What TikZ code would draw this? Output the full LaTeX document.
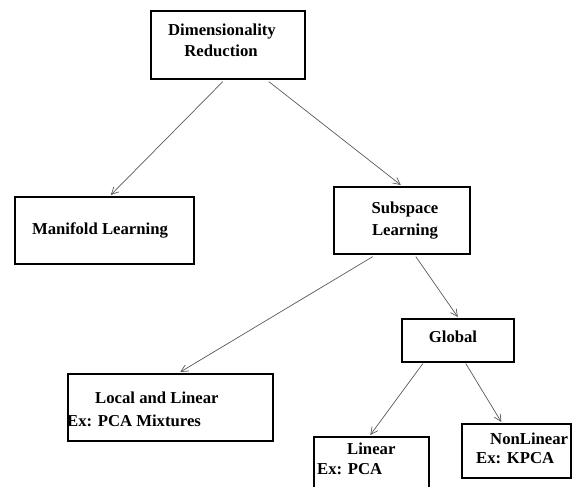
\documentclass[tikz,border=0pt]{standalone}
\usepackage{fontspec}
\setmainfont{Liberation Serif}
\usetikzlibrary{arrows.meta}
\begin{document}
\begin{tikzpicture}[x=1pt,y=-1pt,
  boxnode/.style={draw=black,line width=1.6pt,inner sep=0pt,anchor=north west},
  lbl/.style={inner sep=0pt,font=\bfseries\fontsize{16.7}{20}\selectfont},
  conn/.style={draw=black!65,line width=0.7pt,-{Straight Barb[length=7pt,width=7pt]}}]
\useasboundingbox (0,0) rectangle (579,487);
% boxes
\node[boxnode,minimum width=154pt,minimum height=68pt] (dr) at (150,10) {};
\node[boxnode,minimum width=179pt,minimum height=67pt] (mf) at (14,196) {};
\node[boxnode,minimum width=136pt,minimum height=67pt] (ss) at (333,186) {};
\node[boxnode,minimum width=112pt,minimum height=43pt] (gl) at (401,318) {};
\node[boxnode,minimum width=205pt,minimum height=67pt] (ll) at (67,373) {};
\node[boxnode,minimum width=115pt,minimum height=70pt] (li) at (313,436) {};
\node[boxnode,minimum width=109pt,minimum height=54pt] (nl) at (461,423) {};
% texts
\node[lbl,anchor=base] (t1) at (222,36) {Dimensionality};
\node[lbl,anchor=base] (t2) at (221,57) {Reduction};
\node[lbl,anchor=base] (t3) at (100,234) {Manifold Learning};
\node[lbl,anchor=base] (t4) at (405,213) {Subspace};
\node[lbl,anchor=base] (t5) at (405,235) {Learning};
\node[lbl,anchor=base] (t6) at (453,342) {Global};
\node[lbl,anchor=base west] (t7) at (95,403) {Local and Linear};
\node[lbl,anchor=base west] (t8) at (67,426) {Ex: PCA Mixtures};
\node[lbl,anchor=base west] (t9) at (347,454) {Linear};
\node[lbl,anchor=base west] (t10) at (317,474) {Ex: PCA};
\node[lbl,anchor=base west] (t11) at (490,444) {NonLinear};
\node[lbl,anchor=base west] (t12) at (476,463) {Ex: KPCA};
% connectors
\draw[conn] ([xshift=-5pt,yshift=-2pt]dr.south) -- ([xshift=6.5pt,yshift=1pt]mf.north);
\draw[conn] ([xshift=41pt,yshift=-2pt]dr.south) -- ([xshift=-1pt,yshift=1pt]ss.north);
\draw[conn] ([xshift=-29pt,yshift=-2pt]ss.south) -- ([xshift=10pt,yshift=1pt]ll.north);
\draw[conn] ([xshift=14pt,yshift=-2pt]ss.south) -- ([yshift=1pt]gl.north);
\draw[conn] ([xshift=-35pt,yshift=-1pt]gl.south) -- ([xshift=-1pt,yshift=1pt]li.north);
\draw[conn] ([xshift=8pt,yshift=-1pt]gl.south) -- ([xshift=-15pt,yshift=1pt]nl.north);
\end{tikzpicture}
\end{document}
